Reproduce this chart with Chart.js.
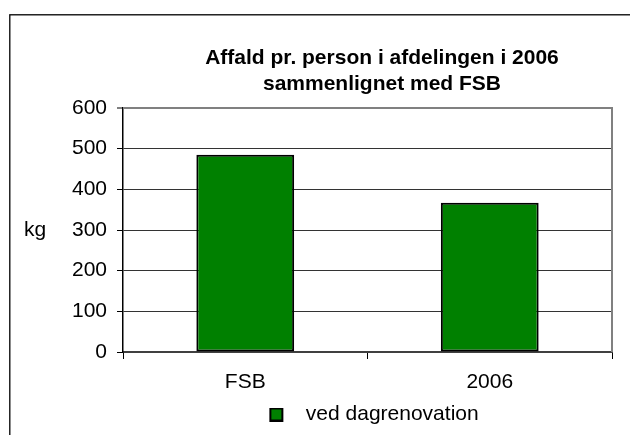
<!DOCTYPE html>
<html>
<head>
<meta charset="utf-8">
<script src="https://cdn.jsdelivr.net/npm/chart.js@4.4.1/dist/chart.umd.min.js"></script>
<style>
  html, body { margin: 0; padding: 0; background: #fff; overflow: hidden; width: 630px; height: 435px; }
</style>
</head>
<body>
<!-- the excel chart object is wider than the picture, so the canvas runs past the right edge -->
<canvas id="chart" width="764" height="435"></canvas>
<script>
const categories = ['FSB', '2006'];
const wasteValues = [485, 367];
const seriesLabel = 'ved dagrenovation';
const titleLines = ['Affald pr. person i afdelingen i 2006', 'sammenlignet med FSB'];
const yTicks = [0, 100, 200, 300, 400, 500, 600];
const yUnit = 'kg';

const FONT = "'Liberation Sans', Arial, sans-serif";
const GREEN = '#008000';

Chart.defaults.font.family = FONT;
Chart.defaults.color = '#000';

// legend swatch, drawn with some empty room on the right so the text sits further away
function makeSwatch() {
  const c = document.createElement('canvas');
  c.width = 39;
  c.height = 14;
  const g = c.getContext('2d');
  g.fillStyle = '#000';
  g.fillRect(13, 0, 14, 14);
  g.fillStyle = GREEN;
  g.fillRect(15, 2, 10, 10);
  return c;
}

const frame = {
  id: 'frame',
  beforeDraw(chart) {
    const ctx = chart.ctx;
    ctx.save();
    ctx.strokeStyle = '#000';
    ctx.lineWidth = 1.3;
    ctx.strokeRect(9.8, 14.8, 740, 1000);
    ctx.restore();
  },
  beforeDatasetsDraw(chart) {
    const { ctx, chartArea: a } = chart;
    ctx.save();
    ctx.strokeStyle = '#808080';
    ctx.lineWidth = 2;
    ctx.beginPath();
    ctx.moveTo(a.left, a.top);
    ctx.lineTo(a.right, a.top);
    ctx.lineTo(a.right, a.bottom);
    ctx.stroke();
    ctx.restore();
  },
  afterDraw(chart) {
    // unit label left of the value axis, horizontal like in excel
    const ctx = chart.ctx;
    const y = chart.scales.y;
    ctx.save();
    ctx.font = '21px ' + FONT;
    ctx.fillStyle = '#000';
    ctx.textBaseline = 'middle';
    ctx.fillText(yUnit, 24, (y.top + y.bottom) / 2);
    ctx.restore();
  }
};

new Chart(document.getElementById('chart'), {
  type: 'bar',
  data: {
    labels: categories,
    datasets: [{
      label: seriesLabel,
      data: wasteValues,
      backgroundColor: GREEN,
      borderColor: '#000',
      borderWidth: 2,
      borderSkipped: false,
      barPercentage: 0.4,
      categoryPercentage: 1
    }]
  },
  options: {
    responsive: false,
    animation: false,
    devicePixelRatio: 1,
    layout: { padding: 0 },
    scales: {
      x: {
        grid: {
          drawOnChartArea: false,
          color: '#000',
          tickLength: 7
        },
        border: { color: '#404040', width: 2 },
        ticks: { font: { size: 21 }, padding: 11, color: '#000' },
        afterFit(scale) { scale.height = 44; }
      },
      y: {
        min: 0,
        max: 600,
        afterBuildTicks(scale) { scale.ticks = yTicks.map(v => ({ value: v })); },
        grid: {
          color: (ctx) => ctx.tick.value === 600 ? '#808080' : '#333',
          lineWidth: (ctx) => ctx.tick.value === 600 ? 2 : 1,
          tickColor: '#000',
          tickWidth: 1,
          tickLength: 6
        },
        border: { color: '#000', width: 1.5 },
        ticks: { font: { size: 21 }, padding: 10, color: '#000' },
        afterFit(scale) { scale.width = 123; }
      },
      // empty space right of the plot (rest of the chart object, cut off in the picture)
      pad: {
        type: 'linear',
        position: 'right',
        grid: { display: false },
        border: { display: false },
        ticks: { display: false },
        afterFit(scale) { scale.width = 152; }
      }
    },
    plugins: {
      title: {
        display: true,
        text: titleLines,
        color: '#000',
        font: { size: 21, weight: 'bold', lineHeight: 1.2 },
        padding: { top: 46, bottom: 11.6 }
      },
      legend: {
        position: 'bottom',
        fullSize: false,
        labels: {
          usePointStyle: true,
          pointStyle: makeSwatch(),
          pointStyleWidth: 39,
          padding: 8,
          color: '#000',
          font: { size: 21 }
        }
      },
      tooltip: { enabled: false }
    }
  },
  plugins: [frame]
});
</script>
</body>
</html>
